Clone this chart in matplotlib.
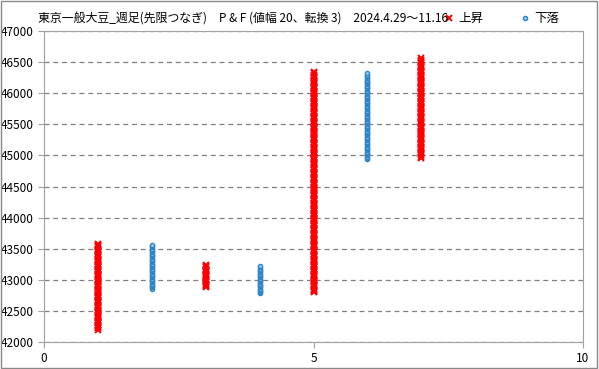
import matplotlib
matplotlib.use("Agg")
import matplotlib.pyplot as plt
import numpy as np

plt.rcParams['font.family'] = ['Noto Sans CJK JP', 'DejaVu Sans']

# P&F columns: (x position, low, high, direction)
col_x = [1, 2, 3, 4, 5, 6, 7]
col_low = [42200, 42860, 42880, 42780, 42800, 44940, 44960]
col_high = [43580, 43560, 43240, 43220, 46340, 46320, 46560]
col_up = [True, False, True, False, True, False, True]
box = 20

title = "東京一般大豆_週足(先限つなぎ)　P & F (値幅 20、転換 3)　2024.4.29～11.16"

fig = plt.figure(figsize=(5.99, 3.69), dpi=100)
ax = fig.add_axes([44 / 599, 27 / 369, 539 / 599, 311 / 369])

ux, uy, dx, dy = [], [], [], []
for x, lo, hi, up in zip(col_x, col_low, col_high, col_up):
    ys = np.arange(lo, hi + box, box)
    if up:
        ux += [x] * len(ys)
        uy += list(ys)
    else:
        dx += [x] * len(ys)
        dy += list(ys)

ax.plot(ux, uy, linestyle="none", marker="x", color="#ff0000",
        markersize=5, markeredgewidth=1.4, label="上昇")
ax.plot(dx, dy, linestyle="none", marker="o", color="#2e86c8",
        markerfacecolor="#9ccbee", markersize=3, markeredgewidth=1.0,
        label="下落")

ax.set_xlim(0, 10)
ax.set_ylim(42000, 47000)
ax.set_xticks([0, 5, 10])
ax.set_yticks(np.arange(42000, 47001, 500))
ax.grid(which="major", axis="y", color="gray", linestyle=(0, (4, 3)),
        linewidth=0.9)
ax.set_axisbelow(True)
for s in ax.spines.values():
    s.set_color("#a0a0a0")
ax.tick_params(labelsize=8.5, color="#a0a0a0", length=4)

fig.text(38 / 599, 1 - 18 / 369, title, fontsize=8.6, va="center", ha="left")
ax.legend(loc="upper left", bbox_to_anchor=(436 / 599, 1 - 6 / 369),
          bbox_transform=fig.transFigure, ncol=2, frameon=False,
          fontsize=9, handlelength=1, handletextpad=0.3, columnspacing=2.8,
          borderpad=0, markerscale=1)

fig.patches.append(plt.Rectangle((0.002, 0.003), 0.995, 0.993,
                                 transform=fig.transFigure, fill=False,
                                 edgecolor="#888888", linewidth=1))

fig.savefig("out.png", dpi=100)
